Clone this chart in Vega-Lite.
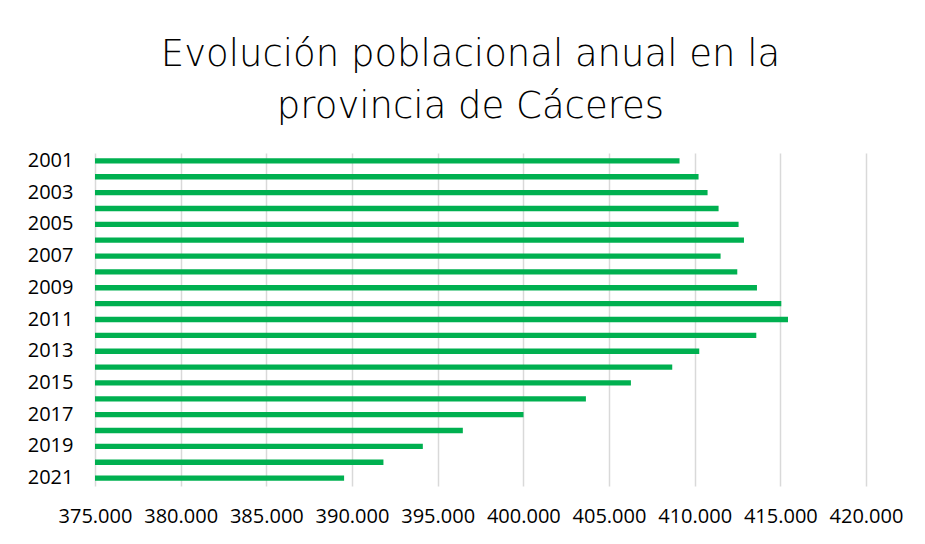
{
  "$schema": "https://vega.github.io/schema/vega-lite/v6.json",
  "width": 771,
  "height": 333,
  "autosize": "none",
  "padding": {"left": 95, "top": 153, "right": 59, "bottom": 58},
  "background": "white",
  "title": {
    "text": ["Evolución poblacional anual en la", "provincia de Cáceres"],
    "font": "DejaVu Sans",
    "fontWeight": 300,
    "fontSize": 37,
    "lineHeight": 52,
    "color": "#000000",
    "anchor": "middle",
    "dx": -10,
    "offset": 24
  },
  "data": {
    "values": [
      {"year": 2001, "population": 409117},
      {"year": 2002, "population": 410227},
      {"year": 2003, "population": 410753},
      {"year": 2004, "population": 411396},
      {"year": 2005, "population": 412563},
      {"year": 2006, "population": 412878},
      {"year": 2007, "population": 411513},
      {"year": 2008, "population": 412487},
      {"year": 2009, "population": 413636},
      {"year": 2010, "population": 415056},
      {"year": 2011, "population": 415447},
      {"year": 2012, "population": 413597},
      {"year": 2013, "population": 410268},
      {"year": 2014, "population": 408691},
      {"year": 2015, "population": 406279},
      {"year": 2016, "population": 403652},
      {"year": 2017, "population": 400010},
      {"year": 2018, "population": 396469},
      {"year": 2019, "population": 394134},
      {"year": 2020, "population": 391835},
      {"year": 2021, "population": 389539}
    ]
  },
  "mark": {"type": "bar", "color": "#00B050", "clip": true},
  "encoding": {
    "y": {
      "field": "year",
      "type": "ordinal",
      "sort": "ascending",
      "scale": {"paddingInner": 0.665, "paddingOuter": 0.33},
      "axis": {
        "values": [2001, 2003, 2005, 2007, 2009, 2011, 2013, 2015, 2017, 2019, 2021],
        "title": null,
        "ticks": false,
        "domain": false,
        "grid": false,
        "labelPadding": 22,
        "labelFont": "Open Sans",
        "labelFontSize": 20,
        "labelColor": "#000000"
      }
    },
    "x": {
      "field": "population",
      "type": "quantitative",
      "scale": {"domain": [375000, 420000], "zero": false, "nice": false},
      "axis": {
        "values": [375000, 380000, 385000, 390000, 395000, 400000, 405000, 410000, 415000, 420000],
        "title": null,
        "grid": true,
        "gridColor": "#d9d9d9",
        "gridWidth": 1.5,
        "ticks": false,
        "domain": false,
        "labelPadding": 20,
        "labelOverlap": false,
        "labelFlush": false,
        "labelFont": "Open Sans",
        "labelFontSize": 20,
        "labelColor": "#000000",
        "labelExpr": "replace(format(datum.value, ',.0f'), ',', '.')"
      }
    },
    "x2": {"datum": 375000}
  },
  "config": {"view": {"stroke": null}}
}
